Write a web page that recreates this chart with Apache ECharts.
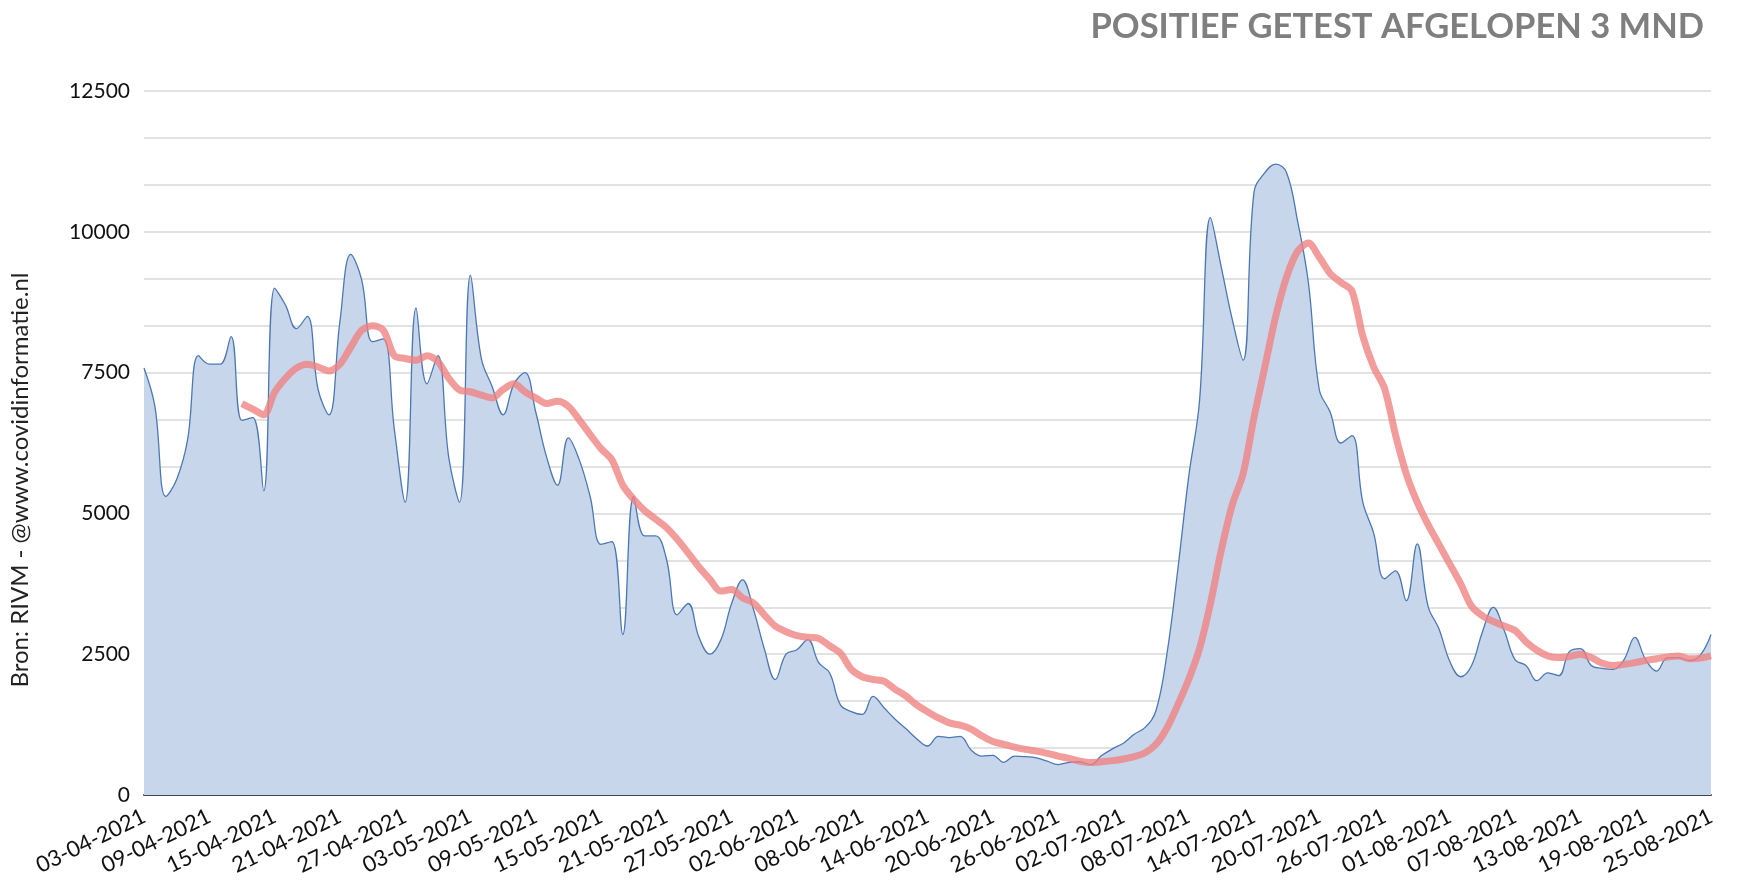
<!DOCTYPE html>
<html>
<head>
<meta charset="utf-8">
<script src="https://cdn.jsdelivr.net/npm/echarts@6/dist/echarts.min.js"></script>
<style>
  html, body { margin: 0; padding: 0; background: #fff; }
  #chart-container { width: 1740px; height: 891px; }
</style>
</head>
<body>
<div id="chart-container"></div>
<script>
// daily positive tests, 03-04-2021 .. 25-08-2021 (145 days)
const startDate = new Date(2021, 3, 3);
const dayCount = 145;

const positief = [
  7580, 6900, 5300, 5600, 6300, 7800, 7650, 7650, 8140, 6650,
  6700, 5400, 9000, 8700, 8280, 8500, 7200, 6750, 8400, 9600,
  9150, 8050, 8100, 6500, 5200, 8650, 7300, 7800, 6000, 5200,
  9230, 7750, 7250, 6750, 7300, 7500, 6800, 6000, 5500, 6340,
  5950, 5300, 4450, 4500, 2850, 5300, 4600, 4600, 4200, 3200,
  3400, 2800, 2500, 2750, 3400, 3820, 3300, 2600, 2050, 2500,
  2580, 2760, 2350, 2170, 1600, 1480, 1430, 1750, 1550, 1350,
  1180, 1000, 870, 1040, 1020, 1040, 800, 690, 705, 580,
  690, 680, 660, 600, 540, 580, 590, 540, 700, 820,
  920, 1080, 1200, 1500, 2500, 4000, 5650, 7000, 10250, 9370,
  8450, 7720, 10700, 11050, 11200, 11050, 10200, 9100, 7200, 6800,
  6250, 6380, 5200, 4650, 3840, 3980, 3450, 4460, 3350, 2950,
  2370, 2100, 2300, 2900, 3330, 2920, 2400, 2300, 2030, 2170,
  2120, 2550, 2600, 2300, 2250, 2230, 2400, 2800, 2400, 2200,
  2440, 2440, 2390, 2480, 2850
];

// weekly average (starts 12-04-2021)
const gemiddelde = [
  null, null, null, null, null, null, null, null, null, 6950,
  6850, 6750, 7150, 7400, 7580, 7650, 7600, 7530, 7650, 7950,
  8250, 8330, 8250, 7800, 7750, 7720, 7800, 7700, 7400, 7190,
  7160, 7100, 7050, 7200, 7300, 7160, 7050, 6950, 6990, 6900,
  6660, 6400, 6150, 5950, 5500, 5250, 5050, 4900, 4750, 4540,
  4300, 4050, 3830, 3620, 3650, 3500, 3410, 3200, 3000, 2900,
  2830, 2800, 2780, 2650, 2520, 2230, 2100, 2050, 2020, 1880,
  1760, 1600, 1480, 1370, 1280, 1240, 1170, 1050, 950, 900,
  850, 810, 780, 740, 690, 650, 600, 576, 590, 610,
  640, 680, 750, 900, 1190, 1600, 2050, 2600, 3400, 4350,
  5150, 5700, 6700, 7600, 8500, 9200, 9650, 9800, 9550, 9260,
  9100, 8950, 8150, 7600, 7220, 6400, 5700, 5200, 4800, 4450,
  4100, 3750, 3350, 3180, 3080, 3000, 2920, 2720, 2570, 2470,
  2440, 2460, 2500, 2440, 2340, 2300, 2320, 2350, 2390, 2420,
  2450, 2470, 2420, 2430, 2470
];

const pad = (n) => (n < 10 ? "0" + n : "" + n);
let dagen = [];
for (let x = 0; x < dayCount; x++) {
  let d = new Date(startDate.getFullYear(), startDate.getMonth(), startDate.getDate() + x);
  dagen.push(pad(d.getDate()) + "-" + pad(d.getMonth() + 1) + "-" + d.getFullYear());
}

let element = document.getElementById("chart-container");
let myChart = echarts.init(element, null, { renderer: "canvas" });

let option = {
  animation: false,
  backgroundColor: "#ffffff",
  textStyle: { fontFamily: "Lato" },
  title: {
    text: "POSITIEF GETEST AFGELOPEN 3 MND",
    right: 31,
    top: 4,
    textStyle: { color: "#7f7f7f", fontSize: 34.5, fontWeight: "bold", fontFamily: "Lato" }
  },
  graphic: [
    {
      type: "text",
      rotation: Math.PI / 2,
      x: 20,
      y: 480,
      style: {
        text: "Bron: RIVM - @www.covidinformatie.nl",
        fill: "#222",
        font: "24px Lato",
        textAlign: "center",
        textVerticalAlign: "middle"
      }
    }
  ],
  grid: { left: 144, right: 29, top: 91, bottom: 96 },
  xAxis: {
    type: "category",
    data: dagen,
    boundaryGap: false,
    axisTick: { show: false },
    axisLine: { lineStyle: { color: "#3e4756", width: 2 } },
    axisLabel: {
      interval: 5,
      rotate: 26,
      color: "#111",
      fontSize: 22,
      fontFamily: "Lato",
      margin: 20
    },
    splitLine: { show: false }
  },
  yAxis: {
    type: "value",
    min: 0,
    max: 12500,
    interval: 2500,
    axisLine: { show: false },
    axisTick: { show: false },
    axisLabel: {
      color: "#111",
      fontSize: 21,
      fontFamily: "Lato",
      margin: 14,
      formatter: (v) => String(v)
    },
    splitLine: { lineStyle: { color: "#d9d9d9", width: 1.5 } },
    minorTick: { show: false, splitNumber: 3 },
    minorSplitLine: { show: true, lineStyle: { color: "#d9d9d9", width: 1.5 } }
  },
  series: [
    {
      name: "positief",
      type: "line",
      data: positief,
      smooth: 0.4,
      showSymbol: false,
      lineStyle: { color: "#4b78b4", width: 1.3 },
      areaStyle: { color: "#c7d6ea", opacity: 1 },
      z: 2
    },
    {
      name: "gemiddelde",
      type: "line",
      data: gemiddelde,
      smooth: 0.3,
      showSymbol: false,
      connectNulls: false,
      lineStyle: { color: "rgba(240,128,128,0.78)", width: 7 },
      z: 3
    }
  ]
};
option && myChart.setOption(option);
window.addEventListener("resize", myChart.resize);
</script>
</body>
</html>
